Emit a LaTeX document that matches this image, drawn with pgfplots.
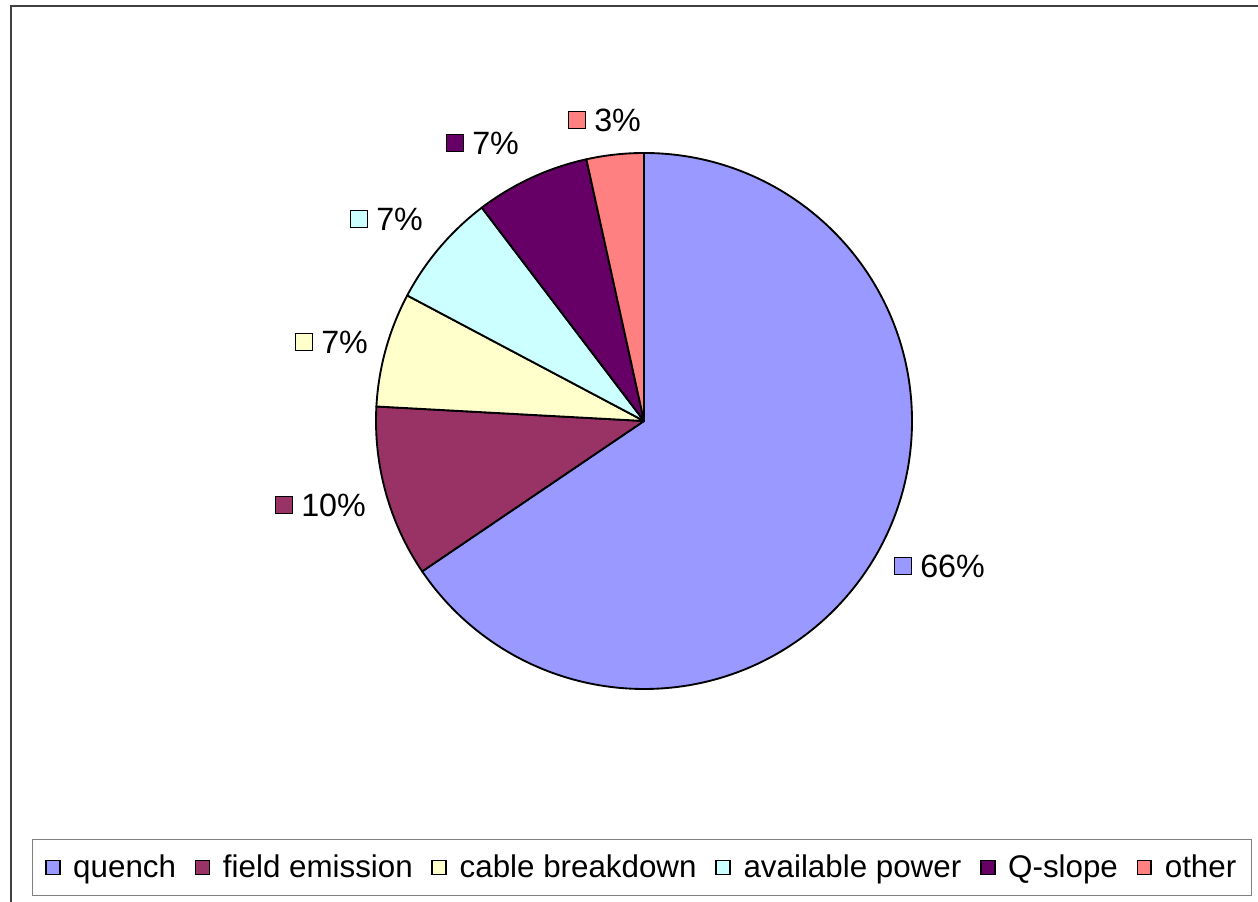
\documentclass[border=0pt]{standalone}
\usepackage{pgfplots}
\usepackage{pgfplotstable}
\pgfplotsset{compat=1.18}
\usepackage{fontspec}
\setmainfont{Liberation Sans}

\definecolor{pieQuench}{HTML}{9999FF}
\definecolor{pieField}{HTML}{993366}
\definecolor{pieCable}{HTML}{FFFFCC}
\definecolor{piePower}{HTML}{CCFFFF}
\definecolor{pieQslope}{HTML}{660066}
\definecolor{pieOther}{HTML}{FF8080}
\definecolor{frameGrey}{HTML}{404040}

% limitation causes: number of cavities, slice colour, label marker position (px)
\pgfplotstableread[col sep=comma]{
name,count,colour,lx,ly
quench,19,pieQuench,903,566
field emission,3,pieField,284,505
cable breakdown,2,pieCable,304,342
available power,2,piePower,359,219
Q-slope,2,pieQslope,455,143
other,1,pieOther,577,120
}\causes

\newcommand{\legendfont}{\fontsize{23.5}{28}\selectfont}
\newcommand{\labelfont}{\fontsize{24.2}{29}\selectfont}

\begin{document}
\begin{tikzpicture}
\begin{axis}[
  scale only axis, width=943.5pt, height=676.5pt,
  xmin=0, xmax=1258, ymin=0, ymax=902,
  hide axis, clip=true,
  legend columns=6,
  legend style={at={(0.5103,0.0382)}, anchor=center,
    draw=gray, line width=0.8pt, font=\legendfont,
    inner xsep=9.5pt, inner ysep=10pt,
    /tikz/every odd column/.append style={column sep=7.5pt},
    /tikz/every even column/.append style={column sep=12pt}},
  legend image code/.code={\draw[#1, draw=black, line width=1.3pt] (0pt,-5.2pt) rectangle (10.4pt,5.2pt);},
]
\addlegendimage{fill=pieQuench}\addlegendentry{quench}
\addlegendimage{fill=pieField}\addlegendentry{field emission}
\addlegendimage{fill=pieCable}\addlegendentry{cable breakdown}
\addlegendimage{fill=piePower}\addlegendentry{available power}
\addlegendimage{fill=pieQslope}\addlegendentry{Q-slope}
\addlegendimage{fill=pieOther}\addlegendentry{other}

\pgfplotsextra{
  % chart area border (runs past the right and bottom edges)
  \draw[frameGrey, line width=1.5pt] (axis cs:11,-30) |- (axis cs:1300,896);
  % pie slices, clockwise from twelve o'clock
  \xdef\startang{90}
  \foreach \i in {0,...,5} {
    \pgfplotstablegetelem{\i}{count}\of\causes \let\cnt\pgfplotsretval
    \pgfplotstablegetelem{\i}{colour}\of\causes \let\col\pgfplotsretval
    \pgfmathsetmacro\endang{\startang-360*\cnt/29}
    \filldraw[fill=\col, draw=black, line width=1.4pt, line join=round]
      (axis cs:644,481) -- ++(\startang:201pt)
      arc[start angle=\startang, end angle=\endang, radius=201pt] -- cycle;
    \xdef\startang{\endang}
  }
  % percentage labels with colour keys
  \foreach \i in {0,...,5} {
    \pgfplotstablegetelem{\i}{count}\of\causes \let\cnt\pgfplotsretval
    \pgfplotstablegetelem{\i}{colour}\of\causes \let\col\pgfplotsretval
    \pgfplotstablegetelem{\i}{lx}\of\causes \let\lx\pgfplotsretval
    \pgfplotstablegetelem{\i}{ly}\of\causes \let\ly\pgfplotsretval
    \pgfmathtruncatemacro\pct{round(100*\cnt/29)}
    \filldraw[fill=\col, draw=black, line width=1.4pt]
      (axis cs:\lx-8.5,902-\ly-8.5) rectangle (axis cs:\lx+8.5,902-\ly+8.5);
    \node[anchor=west, inner sep=0pt, font=\labelfont]
      at (axis cs:\lx+17,902-\ly) {\pct\%};
  }
}
\end{axis}
\pgfresetboundingbox
\useasboundingbox (current axis.south west) rectangle (current axis.north east);
\end{tikzpicture}
\end{document}
